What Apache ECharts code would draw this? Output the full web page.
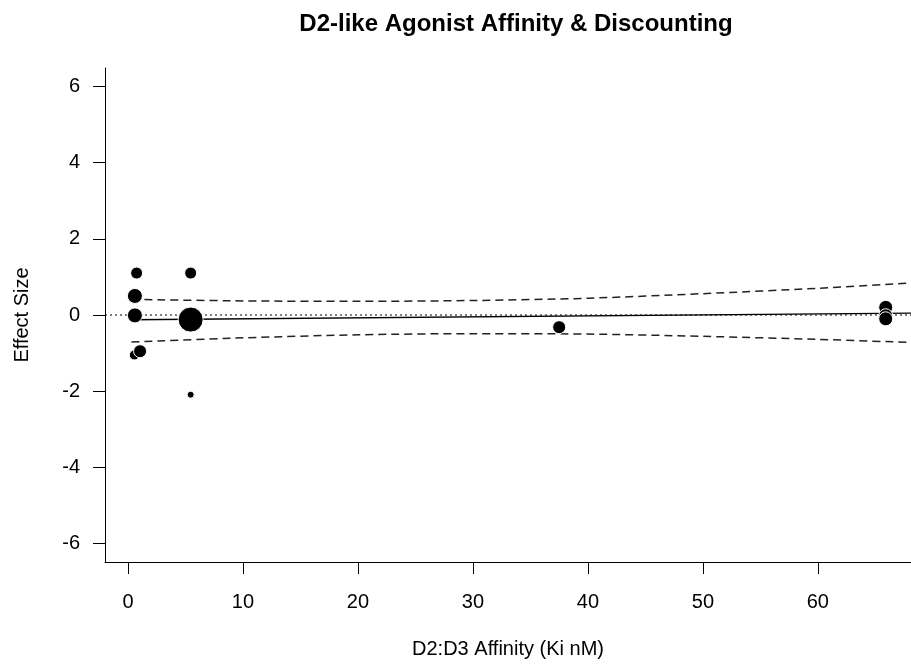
<!DOCTYPE html>
<html>
<head>
<meta charset="utf-8">
<script src="https://cdn.jsdelivr.net/npm/echarts@6/dist/echarts.min.js"></script>
<style>
html,body{margin:0;padding:0;background:#fff;}
#chart{width:911px;height:664px;}
</style>
</head>
<body>
<div id="chart"></div>
<script>
// Study points: x = D2:D3 affinity (Ki nM), y = effect size, w = relative point weight (diameter px)
const pointX = [0.75, 0.6, 0.6, 0.55, 1.05, 5.45, 5.45, 5.45, 37.5, 65.9, 65.9, 65.9];
const pointY = [1.10, 0.50, -0.01, -1.05, -0.95, 1.10, -0.12, -2.09, -0.32, 0.20, -0.02, -0.10];
const pointW = [12, 15, 15, 10, 13, 12, 25, 7, 13, 14, 14, 14];

// Meta-regression fit and confidence band
const fitX = [0.3, 68.1];
const fitY = [-0.125, 0.05];
const bandX = [0.3, 10, 20, 30, 40, 50, 60, 68.1];
const bandUpper = [0.41, 0.37, 0.36, 0.38, 0.44, 0.56, 0.70, 0.84];
const bandLower = [-0.71, -0.60, -0.52, -0.49, -0.50, -0.56, -0.64, -0.72];

const xTicks = [0, 10, 20, 30, 40, 50, 60];
const yTicks = [-6, -4, -2, 0, 2, 4, 6];
const xMin = -2, xMax = 68.1, yMin = -6.48, yMax = 6.48;

const FONT = 'Liberation Sans, Arial, Helvetica, sans-serif';
const chart = echarts.init(document.getElementById('chart'), null, {renderer: 'canvas'});

const pts = pointX.map((x, i) => ({value: [x, pointY[i]], symbolSize: pointW[i]}));

chart.setOption({
  animation: false,
  backgroundColor: '#ffffff',
  title: {
    text: 'D2-like Agonist Affinity & Discounting',
    left: 511, top: 7, textAlign: 'center',
    textStyle: {fontFamily: FONT, fontWeight: 'bold', fontSize: 24, color: '#000'}
  },
  grid: {left: 105, right: 0, top: 68, bottom: 96, containLabel: false},
  xAxis: {
    type: 'value', min: xMin, max: xMax,
    name: 'D2:D3 Affinity (Ki nM)', nameLocation: 'middle', nameGap: 77,
    nameTextStyle: {fontFamily: FONT, fontSize: 20, color: '#000'},
    axisLine: {show: true, onZero: false, lineStyle: {color: '#000', width: 1}},
    axisTick: {show: true, inside: false, length: 12, customValues: xTicks, lineStyle: {color: '#000'}},
    axisLabel: {customValues: xTicks, margin: 30, fontFamily: FONT, fontSize: 20, color: '#000'},
    splitLine: {show: false}
  },
  yAxis: {
    type: 'value', min: yMin, max: yMax,
    name: 'Effect Size', nameLocation: 'middle', nameGap: 73, nameRotate: 90,
    nameTextStyle: {fontFamily: FONT, fontSize: 20, color: '#000'},
    axisLine: {show: true, onZero: false, lineStyle: {color: '#000', width: 1}},
    axisTick: {show: true, inside: false, length: 12, customValues: yTicks, lineStyle: {color: '#000'}},
    axisLabel: {customValues: yTicks, margin: 25, fontFamily: FONT, fontSize: 20, color: '#000'},
    splitLine: {show: false}
  },
  series: [
    {
      type: 'line', data: [[xMin, 0], [xMax, 0]], symbol: 'none', silent: true,
      lineStyle: {color: '#000', width: 1, type: [2, 3]}, z: 1
    },
    {
      type: 'line', data: bandX.map((x, i) => [x, bandUpper[i]]), symbol: 'none', smooth: 0.3,
      lineStyle: {color: '#222', width: 1.5, type: [8, 5]}, z: 2
    },
    {
      type: 'line', data: bandX.map((x, i) => [x, bandLower[i]]), symbol: 'none', smooth: 0.3,
      lineStyle: {color: '#222', width: 1.5, type: [8, 5]}, z: 2
    },
    {
      type: 'line', data: fitX.map((x, i) => [x, fitY[i]]), symbol: 'none',
      lineStyle: {color: '#000', width: 1.4}, z: 3
    },
    {
      type: 'scatter', data: pts, symbol: 'circle',
      itemStyle: {color: '#000', borderColor: '#fff', borderWidth: 1, opacity: 1}, z: 5
    }
  ]
});
</script>
</body>
</html>
